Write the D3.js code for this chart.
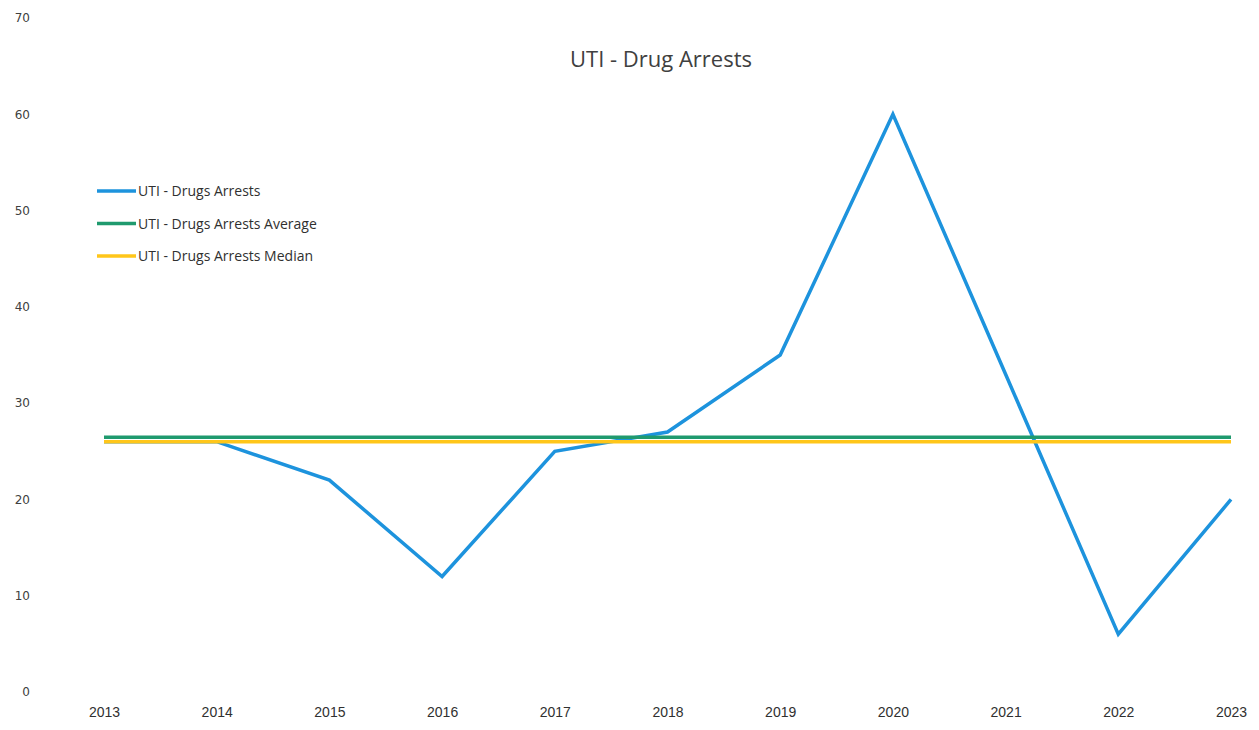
<!DOCTYPE html>
<html>
<head>
<meta charset="utf-8">
<script src="https://cdn.jsdelivr.net/npm/d3@7"></script>
<style>
  html, body { margin: 0; padding: 0; background: #fff; }
  svg { display: block; }
</style>
</head>
<body>
<svg id="chart" width="1259" height="730"></svg>
<script>
const years = ["2013","2014","2015","2016","2017","2018","2019","2020","2021","2022","2023"];
const arrests = [26, 26, 22, 12, 25, 27, 35, 60, 33, 6, 20];
const averageValues = [26.45, 26.45, 26.45, 26.45, 26.45, 26.45, 26.45, 26.45, 26.45, 26.45, 26.45];
const medianValues = [26, 26, 26, 26, 26, 26, 26, 26, 26, 26, 26];
const yTicks = [0, 10, 20, 30, 40, 50, 60, 70];
const seriesNames = ["UTI - Drugs Arrests", "UTI - Drugs Arrests Average", "UTI - Drugs Arrests Median"];
const seriesColors = ["#1d93dd", "#1f9a6e", "#ffc61a"];
const title = "UTI - Drug Arrests";

const svg = d3.select("#chart");
const x = d3.scalePoint().domain(years).range([104, 1231]);
const y = d3.scaleLinear().domain([0, 70]).range([692, 18]);

// Title
svg.append("text")
  .attr("x", 661).attr("y", 67)
  .attr("text-anchor", "middle")
  .attr("font-family", "'Open Sans', 'Noto Sans', sans-serif")
  .attr("font-size", 22)
  .attr("textLength", 182)
  .attr("lengthAdjust", "spacingAndGlyphs")
  .attr("fill", "#404040")
  .text(title);

// Y axis labels (no line)
const yAxis = d3.axisLeft(y).tickValues(yTicks).tickSize(0).tickPadding(0);
const yg = svg.append("g").attr("transform", "translate(30,0)").call(yAxis);
yg.select(".domain").remove();
yg.selectAll("text")
  .attr("font-family", "'DejaVu Sans', sans-serif")
  .attr("font-size", 12)
  .attr("fill", "#404040");

// X axis labels
const xAxis = d3.axisBottom(x).tickSize(0).tickPadding(0);
const xg = svg.append("g").attr("transform", "translate(0,707)").call(xAxis);
xg.select(".domain").remove();
xg.selectAll("text")
  .attr("font-family", "'Liberation Sans', Arial, sans-serif")
  .attr("font-size", 14)
  .attr("fill", "#303030");

const line = d3.line()
  .x((d, i) => x(years[i]))
  .y(d => y(d));

const seriesData = [arrests, averageValues, medianValues];
seriesData.forEach((vals, k) => {
  svg.append("path")
    .datum(vals)
    .attr("fill", "none")
    .attr("stroke", seriesColors[k])
    .attr("stroke-width", 3.5)
    .attr("stroke-linejoin", "miter")
    .attr("stroke-linecap", "butt")
    .attr("d", line);
});

// Legend
const legend = svg.append("g").attr("transform", "translate(97,191)");
seriesNames.forEach((name, k) => {
  const g = legend.append("g").attr("transform", `translate(0,${k * 32.5})`);
  g.append("line")
    .attr("x1", 0).attr("x2", 39).attr("y1", 0).attr("y2", 0)
    .attr("stroke", seriesColors[k]).attr("stroke-width", 3.5);
  g.append("text")
    .attr("x", 41).attr("y", 5)
    .attr("font-family", "'Open Sans', 'Noto Sans', sans-serif")
    .attr("font-size", 14)
    .attr("fill", "#303030")
    .text(name);
});
</script>
</body>
</html>
